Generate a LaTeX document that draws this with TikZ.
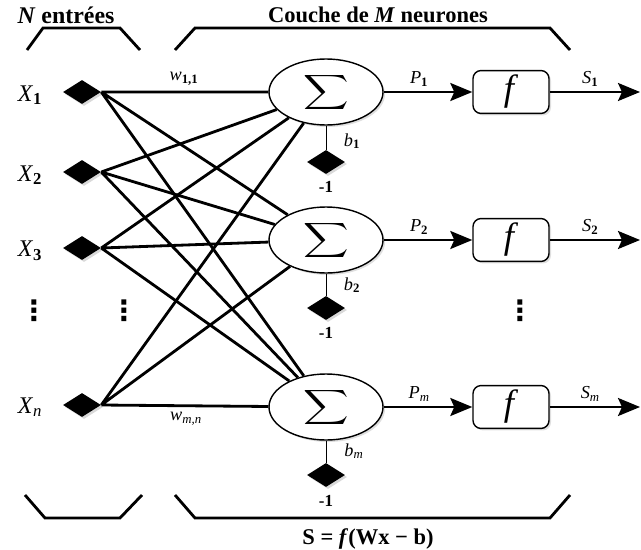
\documentclass[tikz,border=0pt]{standalone}
\usepackage{fontspec}
\setmainfont{Liberation Serif}
\newfontfamily\dotfont{DejaVu Sans}
\usepackage{amsmath}
\usetikzlibrary{arrows.meta,shapes.geometric,shadows}
\newcommand{\bigsum}{\fontsize{19}{22}\selectfont
    \raisebox{-0.25em}[0pt][0pt]{\scalebox{1.3}[1]{$\vcenter{\hbox{$\displaystyle\sum$}}$}}}
\tikzset{
    %Define standard arrow tip
    >={Stealth[length=5.5mm,width=4.5mm,inset=1mm]},
    % Define arrow style
    arr/.style={
           ->,
           line width=1.7pt},
    % weights between inputs and neurons
    wire/.style={line width=2pt},
    brak/.style={line width=2pt},
    stem/.style={line width=0.6pt},
    knot/.style={diamond, fill=black, inner sep=0pt,
           minimum width=0.95cm, minimum height=0.6cm,
           drop shadow={shadow xshift=.05cm, shadow yshift=-.05cm, opacity=.3}},
    som/.style={ellipse, draw, line width=1pt, fill=white, inner sep=0pt,
           minimum width=2.85cm, minimum height=1.65cm,
           drop shadow={shadow xshift=.05cm, shadow yshift=-.05cm, opacity=.25}},
    act/.style={draw, rounded corners=0.2cm, line width=1pt, fill=white,
           minimum width=1.9cm, minimum height=1.05cm,
           drop shadow={shadow xshift=.05cm, shadow yshift=-.05cm, opacity=.25}},
    lab/.style={font=\fontsize{13}{15}\selectfont},
    vdot/.style={font=\dotfont\fontsize{20}{22}\selectfont\bfseries}
}

\begin{document}
\begin{tikzpicture}
\useasboundingbox (0,0) rectangle (16.025,13.725);

% headings and brackets
\node[font=\fontsize{17}{20}\selectfont\bfseries] (hin) at (1.65,13.35) {\textit{N} entrées};
\node[font=\fontsize{16}{19}\selectfont\bfseries] (hout) at (9.45,13.35) {Couche de \textit{M} neurones};
\draw[brak] (0.675,12.475) -- (1.075,13.025) -- (3.0,13.025) -- (3.5,12.475);
\draw[brak] (4.375,12.475) -- (4.875,13.025) -- (13.75,13.025) -- (14.25,12.475);
\draw[brak] (0.625,1.35) -- (1.125,0.775) -- (3.0,0.775) -- (3.55,1.35);
\draw[brak] (4.375,1.35) -- (4.875,0.775) -- (13.75,0.775) -- (14.25,1.35);
\node[font=\fontsize{16}{19}\selectfont\bfseries] (eq) at (9.2,0.25) {S = \textit{f}(Wx − b)};

% inputs
\node[knot] (x1) at (2.05,11.425) {};
\node[knot] (x2) at (2.05,9.425) {};
\node[knot] (x3) at (2.05,7.525) {};
\node[knot] (xn) at (2.05,3.6) {};
\node[font=\fontsize{17}{19}\selectfont] (lx1) at (0.75,11.35) {\textit{X}\textsubscript{\textbf{1}}};
\node[font=\fontsize{17}{19}\selectfont] (lx2) at (0.75,9.35) {\textit{X}\textsubscript{\textbf{2}}};
\node[font=\fontsize{17}{19}\selectfont] (lx3) at (0.75,7.45) {\textit{X}\textsubscript{\textbf{3}}};
\node[font=\fontsize{17}{19}\selectfont] (lxn) at (0.75,3.55) {\textit{X}\textsubscript{\textit{n}}};
\node[vdot] (d1) at (0.85,5.95) {⋮};
\node[vdot] (d2) at (3.1,5.95) {⋮};

% neurons
\node[som] (s1) at (8.15,11.425) {\bigsum};
\node[som] (s2) at (8.15,7.725) {\bigsum};
\node[som] (sm) at (8.15,3.55) {\bigsum};

\draw[wire] (x1.east) -- (s1) (x1.east) -- (s2) (x1.east) -- (sm);
\draw[wire] (x2.east) -- (s1) (x2.east) -- (s2) (x2.east) -- (sm);
\draw[wire] (x3.east) -- (s1) (x3.east) -- (s2) (x3.east) -- (sm);
\draw[wire] (xn.east) -- (s1) (xn.east) -- (s2) (xn.east) -- (sm);
\node[lab] (w11) at (4.6,11.75) {\textit{w}\textsubscript{\textbf{1,1}}};
\node[lab] (wmn) at (4.65,3.25) {\textit{w}\textsubscript{\textit{m,n}}};

% biases
\node[knot] (k1) at (8.15,9.675) {};
\node[knot] (k2) at (8.15,6.025) {};
\node[knot] (km) at (8.15,1.85) {};
\draw[stem] (s1) -- (k1);
\draw[stem] (s2) -- (k2);
\draw[stem] (sm) -- (km);
\node[lab] (lb1) at (8.8,10.2) {\textit{b}\textsubscript{\textbf{1}}};
\node[lab] (lb2) at (8.8,6.6) {\textit{b}\textsubscript{\textbf{2}}};
\node[lab] (lbm) at (8.85,2.45) {\textit{b}\textsubscript{\textit{m}}};
\node[font=\fontsize{12}{14}\selectfont\bfseries] (m1) at (8.15,9.05) {-1};
\node[font=\fontsize{12}{14}\selectfont\bfseries] (m2) at (8.15,5.4) {-1};
\node[font=\fontsize{12}{14}\selectfont\bfseries] (mm) at (8.15,1.2) {-1};

% activation
\node[act] (f1) at (12.775,11.425) {\fontsize{26}{28}\selectfont\textit{f}};
\node[act] (f2) at (12.775,7.725) {\fontsize{26}{28}\selectfont\textit{f}};
\node[act] (fm) at (12.775,3.55) {\fontsize{26}{28}\selectfont\textit{f}};
\node[vdot] (d3) at (13.0,5.95) {⋮};
\coordinate (o1) at (16.0,11.425);
\coordinate (o2) at (16.0,7.725);
\coordinate (om) at (16.0,3.55);

\draw[arr] (s1) -- node[lab, above, pos=.4] {\textit{P}\textsubscript{\textbf{1}}} (f1);
\draw[arr] (s2) -- node[lab, above, pos=.4] {\textit{P}\textsubscript{\textbf{2}}} (f2);
\draw[arr] (sm) -- node[lab, above, pos=.4] {\textit{P}\textsubscript{\textit{m}}} (fm);
\draw[arr] (f1) -- node[lab, above, pos=.45] {\textit{S}\textsubscript{\textbf{1}}} (o1);
\draw[arr] (f2) -- node[lab, above, pos=.45] {\textit{S}\textsubscript{\textbf{2}}} (o2);
\draw[arr] (fm) -- node[lab, above, pos=.45] {\textit{S}\textsubscript{\textit{m}}} (om);
\end{tikzpicture}
\end{document}
